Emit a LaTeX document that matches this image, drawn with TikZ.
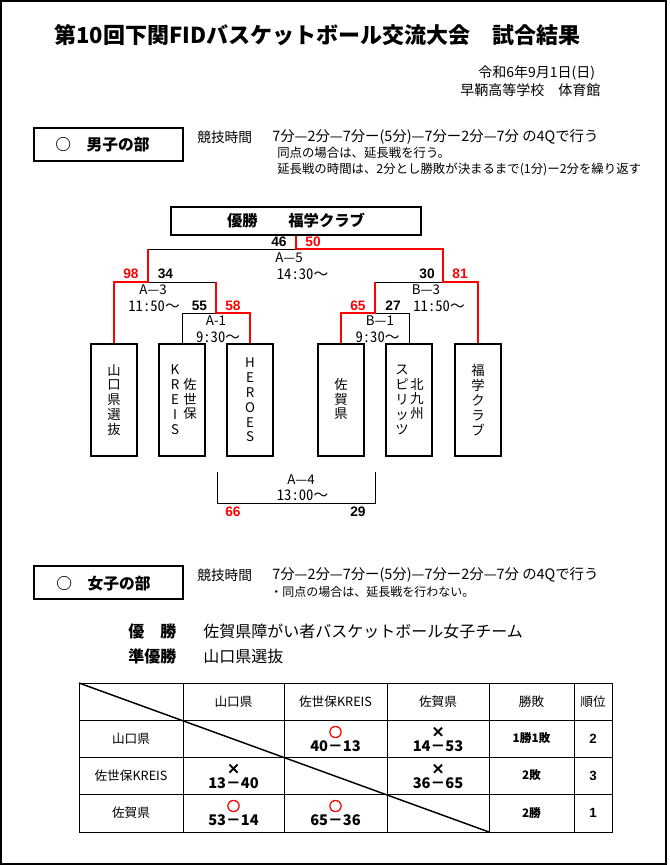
\documentclass[tikz,border=0pt]{standalone}
\usepackage{fontspec}
\newfontfamily\jp{Noto Sans CJK JP}
\newfontfamily\jph{Noto Sans CJK JP}[RawFeature={+hwid}]
\newfontfamily\jpfb{Noto Sans CJK JP Bold}[FakeBold=2.5]
\newfontfamily\lib{Liberation Sans}
\definecolor{winred}{RGB}{255,0,0}
\begin{document}
\begin{tikzpicture}[x=0.75pt,y=-0.75pt,
  txt/.style={inner sep=0pt, font=\jp\fontsize{10}{12}\selectfont},
  lt/.style={txt, anchor=west},
  num/.style={inner sep=0pt, font=\lib\bfseries\fontsize{10.3}{12}\selectfont},
  rnum/.style={num, text=winred},
  mlab/.style={inner sep=0pt, font=\jp\fontsize{10}{12}\selectfont},
  tlab/.style={inner sep=0pt, font=\jp\fontsize{11}{12}\selectfont},
  team/.style={draw, line width=1.3pt, minimum width=34.5pt, minimum height=84pt, inner sep=0pt},
  vtxt/.style={inner sep=0pt, align=center, font=\jp\fontsize{10}{11.2}\selectfont},
  secbox/.style={draw, line width=0.9pt, minimum width=111.75pt, minimum height=24.75pt, inner sep=0pt},
  sectxt/.style={inner sep=0pt, anchor=west, font=\jp\bfseries\fontsize{11.8}{13}\selectfont},
  blk/.style={draw=black, line width=0.6pt},
  rd/.style={draw=winred, line width=1.3pt},
  tline/.style={line width=0.7pt},
  cell/.style={inner sep=0pt, font=\jp\fontsize{9.5}{11}\selectfont},
  score/.style={inner sep=0pt, font=\jp\bfseries\fontsize{11}{12}\selectfont},
  xmk/.style={inner sep=0pt, font=\jpfb\fontsize{10}{12}\selectfont},
  rxmk/.style={xmk, text=winred},
  wl/.style={inner sep=0pt, font=\jp\bfseries\fontsize{8.8}{10}\selectfont},
  rk/.style={inner sep=0pt, font=\lib\bfseries\fontsize{10}{12}\selectfont}
]
\useasboundingbox (0,0) rectangle (669,865);
\draw[line width=1pt] (1,1) rectangle (666,864);

% title and header
\node[inner sep=0pt, font=\jp\bfseries\fontsize{16.5}{20}\selectfont] (title) at (317.5,35) {第10回下関FIDバスケットボール交流大会　試合結果};
\node[lt, font=\jp\fontsize{10.5}{12}\selectfont] (date) at (478,73) {令和6年9月1日(日)};
\node[lt, font=\jp\fontsize{10.5}{12}\selectfont] (place) at (460,90) {早鞆高等学校　体育館};

% men's section
\node[secbox] (men) at (108.5,144.5) {};
\node[sectxt] (ment) at (55,144.5) {○　男子の部};
\node[lt, font=\jp\fontsize{10.3}{12}\selectfont] (mrule) at (197,137) {競技時間};
\node[lt, font=\jp\fontsize{10.8}{12}\selectfont] (mrule2) at (272,137) {7分—2分—7分ー(5分)—7分ー2分—7分 の4Qで行う};
\node[lt, font=\jp\fontsize{9.3}{11}\selectfont] (mrule3) at (277,153) {同点の場合は、延長戦を行う。};
\node[lt, font=\jp\fontsize{9.3}{11}\selectfont] (mrule4) at (277,169) {延長戦の時間は、2分とし勝敗が決まるまで(1分)ー2分を繰り返す};

% winner box
\node[draw, line width=1.3pt, minimum width=187.5pt, minimum height=20.6pt, inner sep=0pt,
      font=\jp\bfseries\fontsize{11.5}{13}\selectfont] (win) at (296,221) {優勝　　福学クラブ};

% team boxes
\node[team] (yam) at (114,400) {};
\node[team] (kre) at (182,400) {};
\node[team] (her) at (250,400) {};
\node[team] (sag) at (341,400) {};
\node[team] (kit) at (409,400) {};
\node[team] (fuk) at (478,400) {};

\node[vtxt] (yamt) at (114,400) {山\\口\\県\\選\\抜};
\node[vtxt] (kret1) at (175,400) {K\\R\\E\\I\\S};
\node[vtxt] (kret2) at (190,399) {佐\\世\\保};
\node[vtxt, font=\jp\fontsize{10}{11.1}\selectfont] (hert) at (250,400) {H\\E\\R\\O\\E\\S};
\node[vtxt] (sagt) at (341,399) {佐\\賀\\県};
\node[vtxt] (kitt1) at (402,400) {ス\\ピ\\リ\\ッ\\ツ};
\node[vtxt] (kitt2) at (417,399) {北\\九\\州};
\node[vtxt] (fukt) at (478,400) {福\\学\\ク\\ラ\\ブ};

% junctions
\coordinate (a1) at (216,313);
\coordinate (a1t) at (216,282);
\coordinate (a3) at (148,282);
\coordinate (a3t) at (148,249);
\coordinate (b1) at (375,313);
\coordinate (b1t) at (375,282);
\coordinate (b3) at (443,282);
\coordinate (b3t) at (443,249);
\coordinate (fin) at (296,249);

% black bracket lines
\draw[blk] (kre.north) |- (a1);
\draw[blk] (a3) -- (a1t);
\draw[blk] (a3t) -- (fin);
\draw[blk] (kit.north) |- (b1);
\draw[blk] (b1t) -- (b3);
% red bracket lines
\draw[rd] (her.north) |- (a1) -- (a1t);
\draw[rd] (yam.north) |- (a3) -- (a3t);
\draw[rd] (sag.north) |- (b1) -- (b1t);
\draw[rd] (fuk.north) |- (b3) -- (b3t) -- (fin) -- (win.south);

% A-4 bracket
\coordinate (a4tl) at (217,472);
\coordinate (a4bl) at (217,503);
\coordinate (a4br) at (375,503);
\coordinate (a4tr) at (375,472);
\draw[blk] (a4tl) -- (a4bl) -- (a4br) -- (a4tr);

% bracket labels
\node[num] (s46) at (279,241.5) {46};
\node[rnum] (s50) at (313,241.5) {50};
\node[mlab] (m5) at (289,258) {A—5};
\node[tlab] (t5) at (302.5,274) {{\jph 14:30}〜};
\node[rnum] (s98) at (131,274) {98};
\node[num] (s34) at (165.5,274) {34};
\node[num] (s30) at (427,274) {30};
\node[rnum] (s81) at (460,274) {81};
\node[mlab] (m3a) at (153,290) {A—3};
\node[tlab] (t3a) at (154,306) {{\jph 11:50}〜};
\node[mlab] (m3b) at (426,290) {B—3};
\node[tlab] (t3b) at (439,306) {{\jph 11:50}〜};
\node[num] (s55) at (199.5,306) {55};
\node[rnum] (s58) at (233,306) {58};
\node[rnum] (s65) at (358,306) {65};
\node[num] (s27) at (393,306) {27};
\node[mlab] (m1a) at (216,321) {A-1};
\node[tlab] (t1a) at (218,337) {{\jph 9:30}〜};
\node[mlab] (m1b) at (380,321) {B—1};
\node[tlab] (t1b) at (377.5,337) {{\jph 9:30}〜};
\node[mlab] (m4) at (301,480) {A—4};
\node[tlab] (t4) at (302.5,495.5) {{\jph 13:00}〜};
\node[rnum] (s66) at (233,511.5) {66};
\node[num] (s29) at (358,511.5) {29};

% women's section
\node[secbox] (women) at (108.5,582.5) {};
\node[sectxt] (woment) at (56,584) {○　女子の部};
\node[lt, font=\jp\fontsize{10.3}{12}\selectfont] (wrule) at (197,575) {競技時間};
\node[lt, font=\jp\fontsize{10.8}{12}\selectfont] (wrule2) at (272,575) {7分—2分—7分ー(5分)—7分ー2分—7分 の4Qで行う};
\node[lt, font=\jp\fontsize{9}{11}\selectfont] (wrule3) at (270,592) {・同点の場合は、延長戦を行わない。};
\node[lt, font=\jp\bfseries\fontsize{12}{14}\selectfont] (wwin) at (128,631) {優　勝};
\node[lt, font=\jp\fontsize{12}{14}\selectfont] (wwinn) at (203,631) {佐賀県障がい者バスケットボール女子チーム};
\node[lt, font=\jp\bfseries\fontsize{12}{14}\selectfont] (wsec) at (128,656) {準優勝};
\node[lt, font=\jp\fontsize{12}{14}\selectfont] (wsecn) at (203,656) {山口県選抜};

% table grid
\draw[tline] (79,683) rectangle (612,832);
\foreach \cx in {183,284,387,489,574} \draw[tline] (\cx,683) -- (\cx,832);
\foreach \ry in {720,757,794} \draw[tline] (79,\ry) -- (612,\ry);
\draw[line width=1.1pt] (79,683) -- (489,832);

% table header
\node[cell] (h1) at (233.5,701.5) {山口県};
\node[cell] (h2) at (335.5,701.5) {佐世保KREIS};
\node[cell] (h3) at (438,701.5) {佐賀県};
\node[cell] (h4) at (531.5,701.5) {勝敗};
\node[cell] (h5) at (593,701.5) {順位};
% row labels
\node[cell] (r1) at (131,738.5) {山口県};
\node[cell] (r2) at (131,775.5) {佐世保KREIS};
\node[cell] (r3) at (131,813) {佐賀県};
% row 1
\node[rxmk] (c12m) at (335.5,732) {○};
\node[score] (c12) at (335.5,746) {40－13};
\node[xmk] (c13m) at (438,732) {×};
\node[score] (c13) at (438,746) {14－53};
\node[wl] (w1) at (531.5,738.5) {1勝1敗};
\node[rk] (k1) at (593,738.5) {2};
% row 2
\node[xmk] (c21m) at (233.5,769) {×};
\node[score] (c21) at (233.5,783) {13－40};
\node[xmk] (c23m) at (438,769) {×};
\node[score] (c23) at (438,783) {36－65};
\node[wl] (w2) at (531.5,775.5) {2敗};
\node[rk] (k2) at (593,775.5) {3};
% row 3
\node[rxmk] (c31m) at (233.5,806) {○};
\node[score] (c31) at (233.5,820) {53－14};
\node[rxmk] (c32m) at (335.5,806) {○};
\node[score] (c32) at (335.5,820) {65－36};
\node[wl] (w3) at (531.5,813) {2勝};
\node[rk] (k3) at (593,813) {1};
\end{tikzpicture}
\end{document}
